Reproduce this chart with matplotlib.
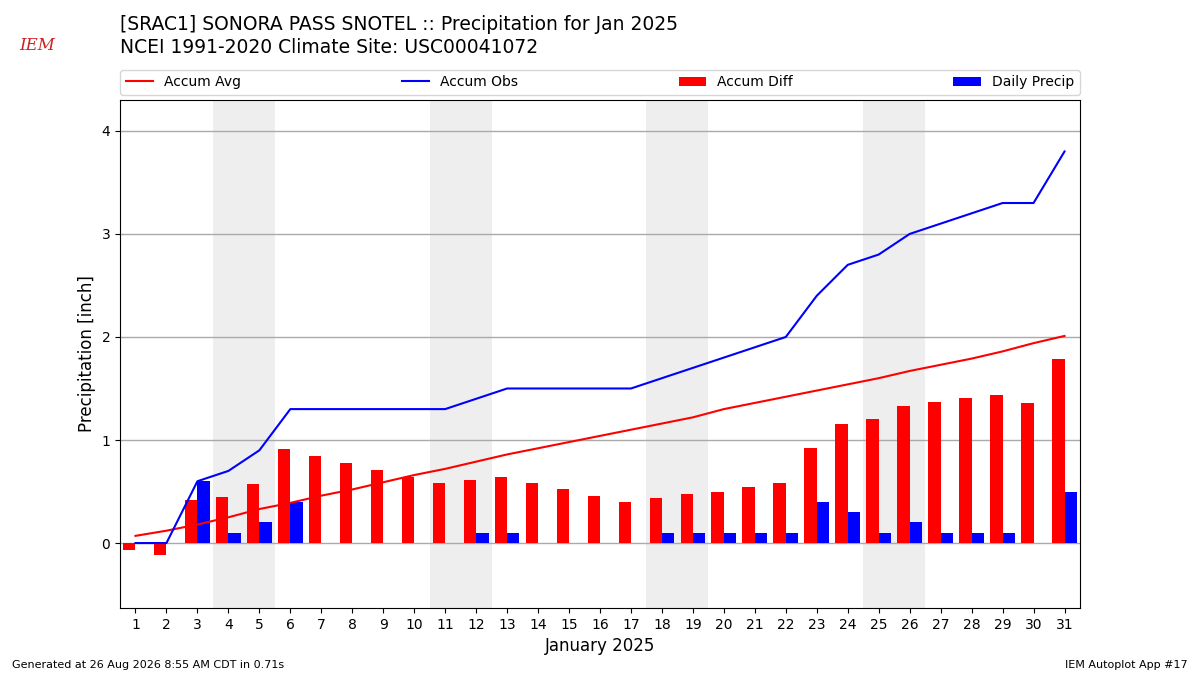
import matplotlib
matplotlib.use("Agg")
import matplotlib.pyplot as plt
import numpy as np

days = list(range(1, 32))
accum_avg = [0.07, 0.12, 0.18, 0.25, 0.33, 0.39, 0.46, 0.52, 0.59, 0.66, 0.72,
             0.79, 0.86, 0.92, 0.98, 1.04, 1.10, 1.16, 1.22, 1.30, 1.36, 1.42,
             1.48, 1.54, 1.60, 1.67, 1.73, 1.79, 1.86, 1.94, 2.01]
accum_obs = [0.0, 0.0, 0.6, 0.7, 0.9, 1.3, 1.3, 1.3, 1.3, 1.3, 1.3, 1.4, 1.5,
             1.5, 1.5, 1.5, 1.5, 1.6, 1.7, 1.8, 1.9, 2.0, 2.4, 2.7, 2.8, 3.0,
             3.1, 3.2, 3.3, 3.3, 3.8]
accum_diff = [-0.07, -0.12, 0.42, 0.45, 0.57, 0.91, 0.84, 0.78, 0.71, 0.64, 0.58,
              0.61, 0.64, 0.58, 0.52, 0.46, 0.40, 0.44, 0.48, 0.50, 0.54, 0.58,
              0.92, 1.16, 1.20, 1.33, 1.37, 1.41, 1.44, 1.36, 1.79]
daily_precip = [0.0, 0.0, 0.6, 0.1, 0.2, 0.4, 0.0, 0.0, 0.0, 0.0, 0.0, 0.1, 0.1,
                0.0, 0.0, 0.0, 0.0, 0.1, 0.1, 0.1, 0.1, 0.1, 0.4, 0.3, 0.1, 0.2,
                0.1, 0.1, 0.1, 0.0, 0.5]
weekends = [(4, 5), (11, 12), (18, 19), (25, 26)]

fig = plt.figure(figsize=(12, 6.75), dpi=100)
ax = fig.add_axes([0.1, 0.0993, 0.8, 0.7526])

for a, b in weekends:
    ax.axvspan(a - 0.5, b + 0.5, color="#eeeeee", zorder=0, lw=0)

x = np.array(days)
ax.plot(x, accum_avg, color="red", lw=1.5, label="Accum Avg", zorder=3)
ax.plot(x, accum_obs, color="blue", lw=1.5, label="Accum Obs", zorder=3)
ax.bar(x - 0.4, accum_diff, width=0.4, align="edge", color="red",
       label="Accum Diff", zorder=2)
ax.bar(x, daily_precip, width=0.4, align="edge", color="blue",
       label="Daily Precip", zorder=2)

ax.set_xlim(0.5, 31.5)
ax.set_ylim(-0.63, 4.3)
ax.set_xticks(days)
ax.set_yticks([0, 1, 2, 3, 4])
ax.grid(axis="y", color="#aaaaaa", lw=1, zorder=1)
ax.set_axisbelow(True)
ax.set_xlabel("January 2025", fontsize=12)
ax.set_ylabel("Precipitation [inch]", fontsize=12)
ax.tick_params(labelsize=10)

ax.legend(loc="lower left", bbox_to_anchor=(0, 1.01, 1, 0.05), ncol=4,
          mode="expand", borderaxespad=0, fontsize=10, frameon=True)

fig.text(0.1, 0.963, "[SRAC1] SONORA PASS SNOTEL :: Precipitation for Jan 2025",
         fontsize=13.5, ha="left", va="center")
fig.text(0.1, 0.93, "NCEI 1991-2020 Climate Site: USC00041072",
         fontsize=13.5, ha="left", va="center")
fig.text(0.01, 0.015, "Generated at 26 Aug 2026 8:55 AM CDT in 0.71s",
         fontsize=8, ha="left", va="center")
fig.text(0.99, 0.015, "IEM Autoplot App #17", fontsize=8, ha="right", va="center")
fig.text(0.031, 0.933, "IEM", fontsize=12, color="#cc2222", family="DejaVu Serif",
         style="italic", ha="center", va="center")

fig.savefig("out.png", dpi=100)
